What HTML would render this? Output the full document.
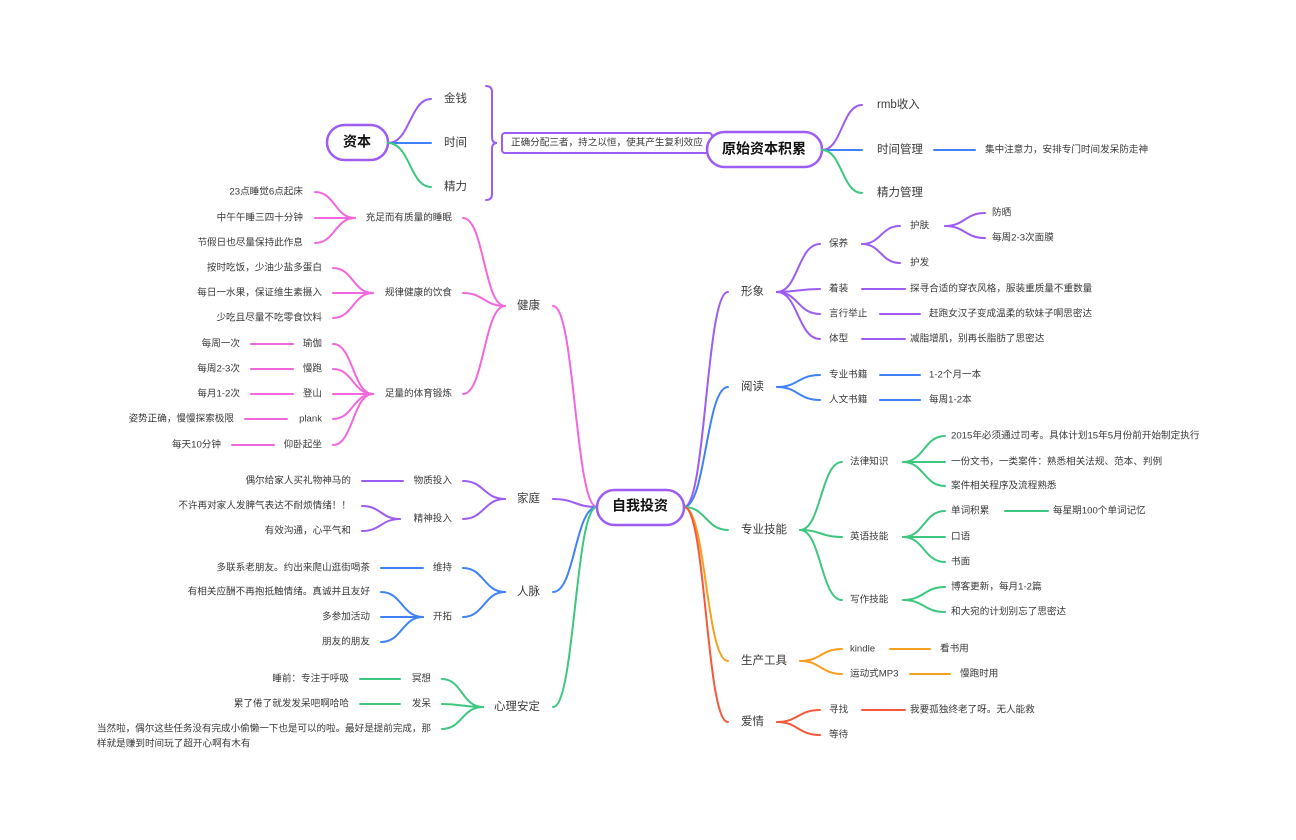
<!DOCTYPE html>
<html><head><meta charset="utf-8"><style>
html,body{margin:0;padding:0;background:#fff;}
svg{display:block;}
text{font-family:"Liberation Sans","Noto Sans CJK SC",sans-serif;fill:#3a3a3a;dominant-baseline:middle;font-size:9.6px;}
.l1{font-size:11.5px;}
.r{text-anchor:end;}
.b{font-weight:bold;font-size:14px;fill:#111;text-anchor:middle;}
path{fill:none;stroke-width:2;stroke-linecap:round;}
.P{stroke:#9d5cf2}.B{stroke:#3f82f7}.G{stroke:#3ec77f}.K{stroke:#f268dc}.O{stroke:#f59f1f}.R{stroke:#f4593a}
</style></head><body>
<svg width="1296" height="840" viewBox="0 0 1296 840">
<rect x="327" y="125" width="61" height="35" rx="17.5" fill="#fff" stroke="#9d5cf2" stroke-width="2.5"/>
<text x="357" y="143" class="b">资本</text>
<path class="P" d="M388,143 C410,143 410,99 431,99"/>
<path class="B" d="M388,143 H431"/>
<path class="G" d="M388,143 C410,143 410,187 431,187"/>
<text x="444" y="99" class="l1">金钱</text>
<text x="444" y="143" class="l1">时间</text>
<text x="444" y="187" class="l1">精力</text>
<path class="P" d="M486,86 Q492,86 492,92 V137 Q492,143 497,143 Q492,143 492,149 V194 Q492,200 486,200"/>
<rect x="502" y="133" width="210" height="20" rx="3" fill="#fff" stroke="#9d5cf2" stroke-width="2"/>
<text x="511" y="143">正确分配三者，持之以恒，使其产生复利效应</text>
<rect x="707" y="132" width="115" height="35" rx="17.5" fill="#fff" stroke="#9d5cf2" stroke-width="2.5"/>
<text x="764" y="150" class="b">原始资本积累</text>
<path class="P" d="M822,150 C842,150 842,105 862,105"/>
<path class="B" d="M822,150 H862"/>
<path class="G" d="M822,150 C842,150 842,193 862,193"/>
<text x="877" y="105" class="l1">rmb收入</text>
<text x="877" y="150" class="l1">时间管理</text>
<text x="877" y="193" class="l1">精力管理</text>
<path class="B" d="M934,150 H975"/>
<text x="985" y="150">集中注意力，安排专门时间发呆防走神</text>

<path class="P" d="M684,507 C706,507 706,292 728,292"/>
<path class="B" d="M684,507 C706,507 706,387 728,387"/>
<path class="G" d="M684,507 C706,507 706,530 728,530"/>
<path class="O" d="M684,507 C706,507 706,661 728,661"/>
<path class="R" d="M684,507 C706,507 706,722 728,722"/>
<path class="K" d="M597,507 C575,507 575,306 553,306"/>
<path class="P" d="M597,507 C575,507 575,499 553,499"/>
<path class="B" d="M597,507 C575,507 575,592 553,592"/>
<path class="G" d="M597,507 C575,507 575,707 553,707"/>
<rect x="597" y="490" width="87" height="35" rx="17.5" fill="#fff" stroke="#9d5cf2" stroke-width="2.5"/>
<text x="640" y="507" class="b">自我投资</text>

<text x="741" y="292" class="l1">形象</text>
<path class="P" d="M777,292 C798,292 798,244 820,244"/>
<path class="P" d="M777,292 C798,292 798,289 820,289"/>
<path class="P" d="M777,292 C798,292 798,314 820,314"/>
<path class="P" d="M777,292 C798,292 798,339 820,339"/>
<text x="829" y="244">保养</text>
<text x="829" y="289">着装</text>
<text x="829" y="314">言行举止</text>
<text x="829" y="339">体型</text>
<path class="P" d="M862,244 C881,244 881,226 900,226"/>
<path class="P" d="M862,244 C881,244 881,263 900,263"/>
<text x="910" y="226">护肤</text>
<text x="910" y="263">护发</text>
<path class="P" d="M945,226 C965,226 965,213 985,213"/>
<path class="P" d="M945,226 C965,226 965,238 985,238"/>
<text x="992" y="213">防晒</text>
<text x="992" y="238">每周2-3次面膜</text>
<path class="P" d="M862,289 H905"/><text x="910" y="289">探寻合适的穿衣风格，服装重质量不重数量</text>
<path class="P" d="M880,314 H920"/><text x="929" y="314">赶跑女汉子变成温柔的软妹子啊思密达</text>
<path class="P" d="M862,339 H905"/><text x="910" y="339">减脂增肌，别再长脂肪了思密达</text>

<text x="741" y="387" class="l1">阅读</text>
<path class="B" d="M777,387 C798,387 798,375 820,375"/>
<path class="B" d="M777,387 C798,387 798,400 820,400"/>
<text x="829" y="375">专业书籍</text>
<text x="829" y="400">人文书籍</text>
<path class="B" d="M880,375 H920"/><text x="929" y="375">1-2个月一本</text>
<path class="B" d="M880,400 H920"/><text x="929" y="400">每周1-2本</text>

<text x="741" y="530" class="l1">专业技能</text>
<path class="G" d="M800,530 C821,530 821,462 842,462"/>
<path class="G" d="M800,530 C821,530 821,537 842,537"/>
<path class="G" d="M800,530 C821,530 821,600 842,600"/>
<text x="850" y="462">法律知识</text>
<text x="850" y="537">英语技能</text>
<text x="850" y="600">写作技能</text>
<path class="G" d="M903,462 C924,462 924,436 945,436"/>
<path class="G" d="M903,462 H945"/>
<path class="G" d="M903,462 C924,462 924,486 945,486"/>
<text x="951" y="436">2015年必须通过司考。具体计划15年5月份前开始制定执行</text>
<text x="951" y="462">一份文书，一类案件：熟悉相关法规、范本、判例</text>
<text x="951" y="486">案件相关程序及流程熟悉</text>
<path class="G" d="M903,537 C924,537 924,511 945,511"/>
<path class="G" d="M903,537 H945"/>
<path class="G" d="M903,537 C924,537 924,562 945,562"/>
<text x="951" y="511">单词积累</text>
<text x="951" y="537">口语</text>
<text x="951" y="562">书面</text>
<path class="G" d="M1005,511 H1048"/><text x="1053" y="511">每星期100个单词记忆</text>
<path class="G" d="M903,600 C924,600 924,587 945,587"/>
<path class="G" d="M903,600 C924,600 924,612 945,612"/>
<text x="951" y="587">博客更新，每月1-2篇</text>
<text x="951" y="612">和大宛的计划别忘了思密达</text>

<text x="741" y="661" class="l1">生产工具</text>
<path class="O" d="M800,661 C821,661 821,649 842,649"/>
<path class="O" d="M800,661 C821,661 821,674 842,674"/>
<text x="850" y="649">kindle</text>
<text x="850" y="674">运动式MP3</text>
<path class="O" d="M890,649 H930"/><text x="940" y="649">看书用</text>
<path class="O" d="M910,674 H950"/><text x="960" y="674">慢跑时用</text>

<text x="741" y="722" class="l1">爱情</text>
<path class="R" d="M777,722 C798,722 798,710 820,710"/>
<path class="R" d="M777,722 C798,722 798,735 820,735"/>
<text x="829" y="710">寻找</text>
<text x="829" y="735">等待</text>
<path class="R" d="M862,710 H905"/><text x="910" y="710">我要孤独终老了呀。无人能救</text>

<text x="540" y="306" class="l1 r">健康</text>
<path class="K" d="M505,306 C484,306 484,218 463,218"/>
<path class="K" d="M505,306 C484,306 484,293 463,293"/>
<path class="K" d="M505,306 C484,306 484,394 463,394"/>
<text x="452" y="218" class="r">充足而有质量的睡眠</text>
<text x="452" y="293" class="r">规律健康的饮食</text>
<text x="452" y="394" class="r">足量的体育锻炼</text>
<path class="K" d="M355,218 C335,218 335,192 315,192"/>
<path class="K" d="M355,218 H315"/>
<path class="K" d="M355,218 C335,218 335,243 315,243"/>
<text x="303" y="192" class="r">23点睡觉6点起床</text>
<text x="303" y="218" class="r">中午午睡三四十分钟</text>
<text x="303" y="243" class="r">节假日也尽量保持此作息</text>
<path class="K" d="M373,293 C353,293 353,268 333,268"/>
<path class="K" d="M373,293 H333"/>
<path class="K" d="M373,293 C353,293 353,318 333,318"/>
<text x="322" y="268" class="r">按时吃饭，少油少盐多蛋白</text>
<text x="322" y="293" class="r">每日一水果，保证维生素摄入</text>
<text x="322" y="318" class="r">少吃且尽量不吃零食饮料</text>
<path class="K" d="M373,394 C353,394 353,344 333,344"/>
<path class="K" d="M373,394 C353,394 353,369 333,369"/>
<path class="K" d="M373,394 H333"/>
<path class="K" d="M373,394 C353,394 353,419 333,419"/>
<path class="K" d="M373,394 C353,394 353,445 333,445"/>
<text x="322" y="344" class="r">瑜伽</text>
<text x="322" y="369" class="r">慢跑</text>
<text x="322" y="394" class="r">登山</text>
<text x="322" y="419" class="r">plank</text>
<text x="322" y="445" class="r">仰卧起坐</text>
<path class="K" d="M251,344 H293"/><text x="240" y="344" class="r">每周一次</text>
<path class="K" d="M251,369 H293"/><text x="240" y="369" class="r">每周2-3次</text>
<path class="K" d="M251,394 H293"/><text x="240" y="394" class="r">每月1-2次</text>
<path class="K" d="M245,419 H287"/><text x="234" y="419" class="r">姿势正确，慢慢探索极限</text>
<path class="K" d="M232,445 H274"/><text x="221" y="445" class="r">每天10分钟</text>

<text x="540" y="499" class="l1 r">家庭</text>
<path class="P" d="M505,499 C484,499 484,481 463,481"/>
<path class="P" d="M505,499 C484,499 484,519 463,519"/>
<text x="452" y="481" class="r">物质投入</text>
<text x="452" y="519" class="r">精神投入</text>
<path class="P" d="M362,481 H403"/><text x="351" y="481" class="r">偶尔给家人买礼物神马的</text>
<path class="P" d="M400,519 C381,519 381,506 362,506"/>
<path class="P" d="M400,519 C381,519 381,531 362,531"/>
<text x="351" y="506" class="r">不许再对家人发脾气表达不耐烦情绪！！</text>
<text x="351" y="531" class="r">有效沟通，心平气和</text>

<text x="540" y="592" class="l1 r">人脉</text>
<path class="B" d="M505,592 C484,592 484,568 463,568"/>
<path class="B" d="M505,592 C484,592 484,617 463,617"/>
<text x="452" y="568" class="r">维持</text>
<text x="452" y="617" class="r">开拓</text>
<path class="B" d="M381,568 H423"/><text x="370" y="568" class="r">多联系老朋友。约出来爬山逛街喝茶</text>
<path class="B" d="M423,617 C402,617 402,592 381,592"/>
<path class="B" d="M423,617 H381"/>
<path class="B" d="M423,617 C402,617 402,642 381,642"/>
<text x="370" y="592" class="r">有相关应酬不再抱抵触情绪。真诚并且友好</text>
<text x="370" y="617" class="r">多参加活动</text>
<text x="370" y="642" class="r">朋友的朋友</text>

<text x="540" y="707" class="l1 r">心理安定</text>
<path class="G" d="M483,707 C462,707 462,679 442,679"/>
<path class="G" d="M483,707 C462,707 462,704 442,704"/>
<path class="G" d="M483,707 C462,707 462,729 442,729"/>
<text x="431" y="679" class="r">冥想</text>
<text x="431" y="704" class="r">发呆</text>
<path class="G" d="M360,679 H400"/><text x="349" y="679" class="r">睡前：专注于呼吸</text>
<path class="G" d="M360,704 H400"/><text x="349" y="704" class="r">累了倦了就发发呆吧啊哈哈</text>
<text x="97" y="729" textLength="334" lengthAdjust="spacingAndGlyphs">当然啦，偶尔这些任务没有完成小偷懒一下也是可以的啦。最好是提前完成，那</text>
<text x="97" y="744">样就是赚到时间玩了超开心啊有木有</text>
</svg>
</body></html>
